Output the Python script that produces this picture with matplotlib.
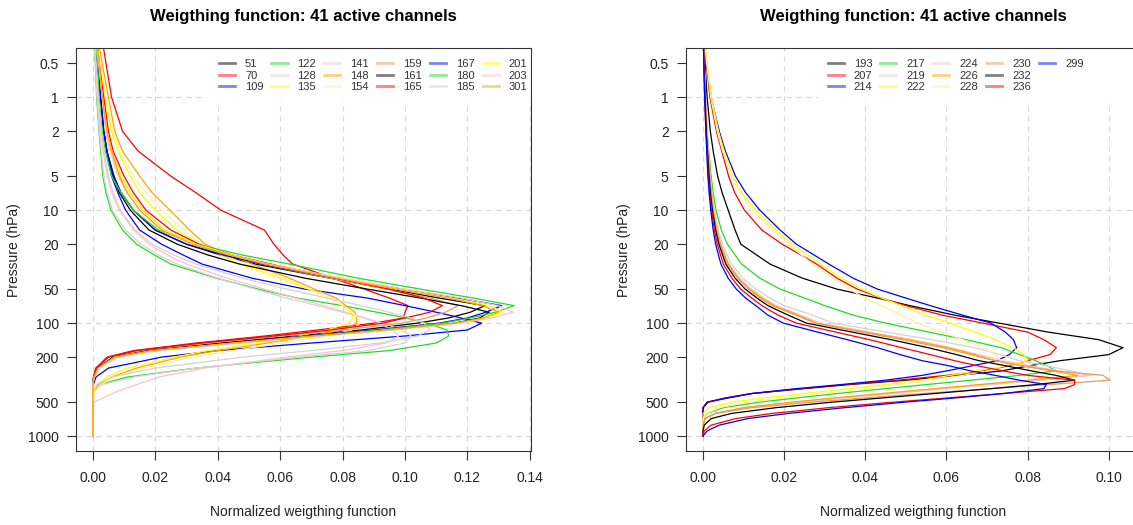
import matplotlib
matplotlib.use('Agg')
import matplotlib.pyplot as plt
from matplotlib.lines import Line2D
from matplotlib.patches import Rectangle
from matplotlib.ticker import FixedLocator, FixedFormatter, NullFormatter

plt.rcParams['font.family'] = ['Liberation Sans', 'DejaVu Sans']

# ================= DATA =================
# pressure levels (hPa) the weighting functions are given on
P_LEFT = [0.35, 0.5, 1, 2, 3, 5, 7, 10, 15, 20, 25, 30, 40, 50, 60, 70, 80, 90, 100,
          115, 130, 150, 175, 200, 250, 300, 350, 400, 500, 700, 1000]
P_RIGHT = [0.35, 0.5, 1, 2, 3, 5, 7, 10, 15, 20, 30, 40, 50, 60, 70, 85, 100, 120, 140,
           165, 190, 215, 240, 265, 290, 320, 350, 380, 420, 460, 500, 560, 630, 700,
           800, 900, 1000]

CH_LEFT = ['51', '70', '109', '122', '128', '135', '141', '148', '154',
           '159', '161', '165', '167', '180', '185', '201', '203', '301']
CH_RIGHT = ['193', '207', '214', '217', '219', '222', '224', '226', '228',
            '230', '232', '236', '299']

# left panel, one list per channel (values on P_LEFT)
w51 = [0.001, 0.0015, 0.0025, 0.0035, 0.0045, 0.0068, 0.009, 0.013, 0.020, 0.030, 0.041, 0.052, 0.076, 0.095, 0.111, 0.1256, 0.121, 0.114, 0.104, 0.086, 0.065, 0.041, 0.018, 0.0065, 0.0015, 0.0003, 0, 0, 0, 0, 0]
w70 = [0.0033, 0.0042, 0.006, 0.0095, 0.0145, 0.025, 0.033, 0.041, 0.055, 0.058, 0.061, 0.064, 0.077, 0.087, 0.095, 0.101, 0.100, 0.0995, 0.090, 0.072, 0.055, 0.033, 0.013, 0.0045, 0.001, 0.0002, 0, 0, 0, 0, 0]
w109 = [0.001, 0.0015, 0.0025, 0.0035, 0.0045, 0.006, 0.008, 0.0105, 0.015, 0.022, 0.029, 0.035, 0.051, 0.068, 0.088, 0.100, 0.110, 0.118, 0.1246, 0.120, 0.100, 0.070, 0.040, 0.022, 0.005, 0.001, 0.0002, 0, 0, 0, 0]
w122 = [0.0005, 0.0008, 0.0012, 0.002, 0.0025, 0.0032, 0.0042, 0.0058, 0.0095, 0.014, 0.0198, 0.025, 0.0396, 0.053, 0.0655, 0.080, 0.091, 0.1005, 0.107, 0.1135, 0.114, 0.110, 0.095, 0.070, 0.033, 0.011, 0.002, 0, 0, 0, 0]
w128 = [0.0005, 0.0008, 0.0013, 0.0021, 0.0027, 0.0035, 0.0046, 0.0062, 0.0105, 0.0155, 0.021, 0.027, 0.040, 0.052, 0.062, 0.072, 0.080, 0.087, 0.093, 0.099, 0.102, 0.100, 0.088, 0.066, 0.033, 0.013, 0.003, 0.0005, 0, 0, 0]
w135 = [0.0015, 0.0022, 0.004, 0.006, 0.008, 0.012, 0.015, 0.020, 0.027, 0.034, 0.041, 0.047, 0.060, 0.069, 0.076, 0.080, 0.0825, 0.0834, 0.082, 0.075, 0.066, 0.052, 0.037, 0.026, 0.011, 0.0045, 0.0015, 0.0004, 0, 0, 0]
w141 = [0.0008, 0.001, 0.0015, 0.0025, 0.0033, 0.0046, 0.006, 0.0085, 0.013, 0.018, 0.024, 0.030, 0.043, 0.055, 0.065, 0.074, 0.081, 0.087, 0.092, 0.096, 0.098, 0.094, 0.080, 0.062, 0.036, 0.021, 0.014, 0.008, 0.0003, 0, 0]
w148 = [0.002, 0.003, 0.005, 0.007, 0.0095, 0.015, 0.019, 0.0247, 0.031, 0.036, 0.044, 0.051, 0.063, 0.071, 0.078, 0.081, 0.084, 0.0845, 0.0845, 0.080, 0.070, 0.056, 0.040, 0.028, 0.014, 0.006, 0.002, 0.0005, 0, 0, 0]
w154 = [0.0015, 0.0025, 0.0042, 0.0065, 0.0085, 0.013, 0.017, 0.022, 0.029, 0.035, 0.042, 0.049, 0.061, 0.070, 0.076, 0.080, 0.083, 0.085, 0.0856, 0.083, 0.075, 0.061, 0.045, 0.032, 0.016, 0.007, 0.0025, 0.0007, 0, 0, 0]
w159 = [0.0015, 0.002, 0.003, 0.0045, 0.006, 0.009, 0.012, 0.016, 0.023, 0.032, 0.043, 0.054, 0.076, 0.094, 0.108, 0.117, 0.113, 0.107, 0.099, 0.080, 0.060, 0.037, 0.015, 0.005, 0.0012, 0.0002, 0, 0, 0, 0, 0]
w161 = [0.001, 0.0015, 0.0025, 0.0035, 0.0045, 0.0065, 0.0085, 0.012, 0.018, 0.027, 0.037, 0.047, 0.068, 0.088, 0.105, 0.118, 0.127, 0.124, 0.116, 0.094, 0.071, 0.045, 0.020, 0.007, 0.0018, 0.0004, 0, 0, 0, 0, 0]
w165 = [0.0015, 0.002, 0.0035, 0.005, 0.0065, 0.010, 0.013, 0.017, 0.025, 0.034, 0.045, 0.057, 0.078, 0.095, 0.106, 0.112, 0.108, 0.100, 0.093, 0.076, 0.058, 0.035, 0.014, 0.005, 0.001, 0.0002, 0, 0, 0, 0, 0]
w167 = [0.001, 0.0015, 0.0025, 0.0035, 0.0045, 0.0065, 0.009, 0.013, 0.020, 0.030, 0.042, 0.054, 0.078, 0.099, 0.117, 0.131, 0.126, 0.120, 0.111, 0.090, 0.068, 0.043, 0.018, 0.0065, 0.0015, 0.0003, 0, 0, 0, 0, 0]
w180 = [0.001, 0.0015, 0.002, 0.003, 0.004, 0.006, 0.009, 0.013, 0.021, 0.033, 0.048, 0.063, 0.085, 0.105, 0.122, 0.135, 0.129, 0.121, 0.112, 0.092, 0.070, 0.045, 0.019, 0.007, 0.0017, 0.0004, 0, 0, 0, 0, 0]
w185 = [0.0008, 0.001, 0.0018, 0.0028, 0.0036, 0.005, 0.0065, 0.0088, 0.0135, 0.019, 0.026, 0.033, 0.048, 0.062, 0.075, 0.086, 0.095, 0.102, 0.106, 0.108, 0.104, 0.092, 0.070, 0.048, 0.020, 0.006, 0.0012, 0.0002, 0, 0, 0]
w201 = [0.0015, 0.002, 0.003, 0.0045, 0.006, 0.009, 0.012, 0.016, 0.023, 0.033, 0.045, 0.056, 0.079, 0.098, 0.115, 0.127, 0.1315, 0.126, 0.117, 0.095, 0.072, 0.046, 0.020, 0.007, 0.0018, 0.0004, 0, 0, 0, 0, 0]
w203 = [0.0012, 0.0018, 0.003, 0.004, 0.0055, 0.008, 0.011, 0.015, 0.022, 0.032, 0.044, 0.056, 0.080, 0.100, 0.118, 0.130, 0.1347, 0.128, 0.118, 0.096, 0.073, 0.047, 0.021, 0.008, 0.002, 0.0005, 0, 0, 0, 0, 0]
w301 = [0.0015, 0.002, 0.003, 0.0045, 0.006, 0.0085, 0.011, 0.015, 0.022, 0.032, 0.044, 0.055, 0.078, 0.097, 0.114, 0.125, 0.130, 0.125, 0.116, 0.094, 0.071, 0.045, 0.019, 0.007, 0.0017, 0.0004, 0, 0, 0, 0, 0]

# right panel (values on P_RIGHT)
w193 = [0.0003, 0.0005, 0.001, 0.0018, 0.0025, 0.0036, 0.0047, 0.0062, 0.0079, 0.0093, 0.0165, 0.0245, 0.033, 0.043, 0.051, 0.062, 0.073, 0.085, 0.0975, 0.1035, 0.100, 0.088, 0.080, 0.0735, 0.063, 0.050, 0.036, 0.025, 0.012, 0.0062, 0.001, 0, 0, 0, 0, 0, 0]
w207 = [0.0005, 0.0008, 0.0017, 0.0033, 0.0046, 0.0063, 0.0078, 0.0102, 0.0145, 0.0195, 0.028, 0.033, 0.038, 0.044, 0.050, 0.059, 0.069, 0.080, 0.084, 0.0871, 0.0855, 0.080, 0.075, 0.069, 0.060, 0.048, 0.035, 0.024, 0.012, 0.0055, 0.0012, 0, 0, 0, 0, 0, 0]
w214 = [0.0005, 0.0009, 0.002, 0.004, 0.0055, 0.008, 0.0105, 0.014, 0.019, 0.023, 0.031, 0.037, 0.043, 0.050, 0.056, 0.064, 0.071, 0.0745, 0.0765, 0.0773, 0.0755, 0.0725, 0.066, 0.060, 0.054, 0.045, 0.034, 0.023, 0.012, 0.0055, 0.0012, 0, 0, 0, 0, 0, 0]
w217 = [0.0002, 0.0003, 0.0006, 0.001, 0.0014, 0.002, 0.0025, 0.0032, 0.0045, 0.006, 0.0095, 0.014, 0.019, 0.025, 0.030, 0.037, 0.045, 0.0556, 0.0648, 0.0735, 0.078, 0.082, 0.085, 0.087, 0.078, 0.066, 0.055, 0.045, 0.033, 0.023, 0.014, 0.005, 0.001, 0, 0, 0, 0]
w219 = [0.0002, 0.0003, 0.0006, 0.001, 0.0013, 0.0018, 0.0022, 0.0028, 0.0038, 0.0048, 0.007, 0.0098, 0.013, 0.0165, 0.020, 0.027, 0.032, 0.0451, 0.0564, 0.067, 0.0732, 0.078, 0.085, 0.091, 0.095, 0.082, 0.070, 0.059, 0.046, 0.034, 0.023, 0.010, 0.003, 0.0005, 0, 0, 0]
w222 = [0.0006, 0.001, 0.0021, 0.0038, 0.0052, 0.0075, 0.0095, 0.013, 0.018, 0.022, 0.029, 0.034, 0.039, 0.044, 0.049, 0.055, 0.061, 0.067, 0.072, 0.0765, 0.079, 0.080, 0.074, 0.067, 0.061, 0.054, 0.045, 0.036, 0.025, 0.015, 0.007, 0.0015, 0, 0, 0, 0, 0]
w224 = [0.0002, 0.0003, 0.0005, 0.0009, 0.0012, 0.0016, 0.002, 0.0026, 0.0035, 0.0044, 0.0064, 0.009, 0.012, 0.015, 0.018, 0.024, 0.029, 0.041, 0.0515, 0.061, 0.068, 0.074, 0.081, 0.088, 0.096, 0.083, 0.071, 0.060, 0.047, 0.035, 0.024, 0.011, 0.003, 0.0005, 0, 0, 0]
w226 = [0.0002, 0.0003, 0.0005, 0.0009, 0.0012, 0.0016, 0.002, 0.0025, 0.0034, 0.0043, 0.0062, 0.0087, 0.0115, 0.0145, 0.0175, 0.0235, 0.028, 0.040, 0.0506, 0.0605, 0.067, 0.072, 0.079, 0.086, 0.0924, 0.080, 0.068, 0.057, 0.044, 0.032, 0.022, 0.010, 0.003, 0.0005, 0, 0, 0]
w228 = [0.0005, 0.0009, 0.0019, 0.0035, 0.0048, 0.007, 0.009, 0.0122, 0.017, 0.021, 0.027, 0.032, 0.036, 0.040, 0.044, 0.049, 0.053, 0.059, 0.064, 0.069, 0.072, 0.0735, 0.074, 0.070, 0.064, 0.056, 0.048, 0.040, 0.029, 0.019, 0.011, 0.004, 0.0008, 0, 0, 0, 0]
w230 = [0.0002, 0.0003, 0.0005, 0.0009, 0.0012, 0.0016, 0.002, 0.0024, 0.0033, 0.0042, 0.006, 0.0085, 0.0112, 0.014, 0.017, 0.023, 0.0275, 0.039, 0.049, 0.059, 0.066, 0.072, 0.079, 0.087, 0.0986, 0.1003, 0.085, 0.071, 0.054, 0.040, 0.027, 0.012, 0.003, 0.0005, 0, 0, 0]
w232 = [0.0001, 0.0002, 0.0005, 0.0008, 0.0011, 0.0015, 0.0018, 0.0023, 0.0031, 0.0039, 0.0056, 0.0079, 0.0104, 0.0133, 0.016, 0.021, 0.0255, 0.0367, 0.0463, 0.0555, 0.0625, 0.068, 0.075, 0.081, 0.087, 0.0916, 0.082, 0.071, 0.057, 0.044, 0.032, 0.018, 0.007, 0.002, 0.0003, 0, 0]
w236 = [0.0001, 0.0002, 0.0004, 0.0007, 0.001, 0.0013, 0.0016, 0.0021, 0.0028, 0.0035, 0.005, 0.0071, 0.0093, 0.012, 0.0145, 0.0185, 0.023, 0.0327, 0.041, 0.049, 0.056, 0.062, 0.068, 0.074, 0.080, 0.0916, 0.0916, 0.089, 0.074, 0.060, 0.047, 0.031, 0.017, 0.008, 0.002, 0.0003, 0]
w299 = [0.0001, 0.0002, 0.0004, 0.0007, 0.0009, 0.0012, 0.0015, 0.0019, 0.0025, 0.0031, 0.0044, 0.0062, 0.0082, 0.0105, 0.013, 0.016, 0.0198, 0.0282, 0.0355, 0.043, 0.0486, 0.054, 0.061, 0.066, 0.072, 0.078, 0.0846, 0.084, 0.074, 0.062, 0.050, 0.035, 0.021, 0.011, 0.004, 0.001, 0]

LEFT_SERIES = [w51, w70, w109, w122, w128, w135, w141, w148, w154,
               w159, w161, w165, w167, w180, w185, w201, w203, w301]
RIGHT_SERIES = [w193, w207, w214, w217, w219, w222, w224, w226, w228,
                w230, w232, w236, w299]

# R-like colour cycle
COLORS = ['black', 'red', 'blue', '#22dd22', 'lightgray', 'yellow', 'pink',
          'orange', '#fff0a0', '#e89a60']

P_TICKS = [0.5, 1, 2, 5, 10, 20, 50, 100, 200, 500, 1000]
P_GRID = [1, 10, 100, 1000]
X_TICKS_LEFT = [0.00, 0.02, 0.04, 0.06, 0.08, 0.10, 0.12, 0.14]
X_TICKS_RIGHT = [0.00, 0.02, 0.04, 0.06, 0.08, 0.10]

TITLE = 'Weigthing function: 41 active channels'
AX_COLOR = '#333333'
GRID_KW = dict(color='#d3d3d3', linestyle=(0, (4.5, 4.5)), linewidth=0.8)


def draw_panel(ax, pres, series, channels, xlim, xticks, ncol, box_x, leg_x):
    ax.set_yscale('log')
    ax.set_ylim(1355, 0.369)
    ax.set_xlim(*xlim)
    ax.set_axisbelow(True)

    for i, w in enumerate(series):
        ax.plot(w, pres, color=COLORS[i % len(COLORS)], lw=0.9, zorder=2)

    ax.yaxis.set_major_locator(FixedLocator(P_TICKS))
    ax.yaxis.set_major_formatter(FixedFormatter([f'{p:g}' for p in P_TICKS]))
    # horizontal grid only at the decades -> minor ticks that sit on major ones
    ax.yaxis.remove_overlapping_locs = False
    ax.yaxis.set_minor_locator(FixedLocator(P_GRID))
    ax.yaxis.set_minor_formatter(NullFormatter())
    ax.set_xticks(xticks)
    ax.set_xticklabels([f'{x:.2f}' for x in xticks])

    ax.tick_params(which='major', direction='out', length=6.5, width=0.8,
                   color=AX_COLOR, labelcolor='#222222', labelsize=10)
    ax.tick_params(axis='x', pad=8)
    ax.tick_params(axis='y', pad=6)
    ax.tick_params(which='minor', length=0)
    ax.grid(axis='x', which='major', **GRID_KW)
    ax.grid(axis='y', which='minor', **GRID_KW)
    for sp in ax.spines.values():
        sp.set_color(AX_COLOR)
        sp.set_linewidth(0.8)

    ax.set_title(TITLE, fontsize=12, fontweight='bold', pad=20)
    ax.set_xlabel('Normalized weigthing function', fontsize=10, labelpad=14,
                  color='#222222')
    ax.set_ylabel('Pressure (hPa)', fontsize=10, labelpad=5, color='#222222')

    # white legend background hides the grid behind it
    ax.add_patch(Rectangle((box_x, 0.8685), 1.1 - box_x, 0.2, transform=ax.transAxes,
                           facecolor='white', edgecolor='none', zorder=1))
    handles = [Line2D([], [], color=COLORS[i % len(COLORS)], lw=2, alpha=0.5)
               for i in range(len(channels))]
    labels = list(channels)
    # pad to full columns so the last column holds one entry like R does
    n_rows = 3
    while len(labels) < ncol * n_rows:
        handles.append(Line2D([], [], alpha=0))
        labels.append('')
    leg = ax.legend(handles, labels, ncol=ncol, loc='upper left',
                    bbox_to_anchor=(leg_x, 0.973), frameon=False, fontsize=8,
                    handlelength=1.45, handletextpad=0.9, columnspacing=0.72,
                    labelspacing=0.14, borderpad=0, borderaxespad=0)
    for t in leg.get_texts():
        t.set_color('#333333')


def main():
    fig = plt.figure(figsize=(11.33, 5.25), dpi=100)
    ax1 = fig.add_axes([76 / 1133, 74 / 525, 455 / 1133, 402.7 / 525])
    ax2 = fig.add_axes([686 / 1133, 74 / 525, 454 / 1133, 402.7 / 525])

    draw_panel(ax1, P_LEFT, LEFT_SERIES, CH_LEFT, (-0.0054, 0.1404),
               X_TICKS_LEFT, 6, 0.288, 0.314)
    draw_panel(ax2, P_RIGHT, RIGHT_SERIES, CH_RIGHT, (-0.0042, 0.1077),
               X_TICKS_RIGHT, 5, 0.291, 0.312)

    fig.savefig('out.png', dpi=100)


if __name__ == "__main__":
    main()
